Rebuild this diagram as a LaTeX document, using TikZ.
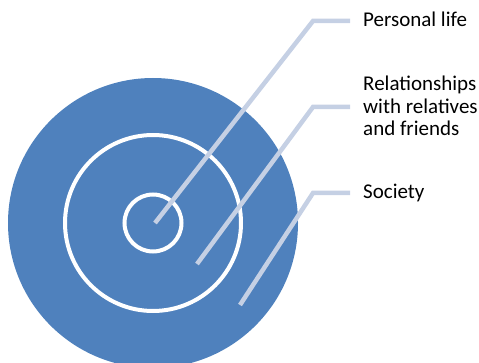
\documentclass[tikz,border=0pt]{standalone}
\usepackage{fontspec}
\setmainfont{Carlito}
\definecolor{discblue}{RGB}{79,129,189}
\definecolor{leadblue}{RGB}{197,208,228}
\begin{document}
\begin{tikzpicture}[x=1pt,y=-1pt,
  disc/.style={circle, fill=discblue, inner sep=0, minimum size=#1},
  ring/.style={circle, draw=white, line width=4pt, inner sep=0, minimum size=#1},
  leader/.style={draw=leadblue, line width=4.5pt, line cap=butt, line join=miter, shorten >=13pt},
  label/.style={anchor=base west, inner sep=0, align=left, font=\fontsize{21}{22.5}\selectfont, text=black}]
\useasboundingbox (0,0) rectangle (479,363);
\clip (0,0) rectangle (479,363);
\node[disc=290pt] (outer) at (153,223) {};
\node[ring=176pt] (middle) at (153,223) {};
\node[ring=57pt] (inner) at (153,223) {};
\node[label] (t1) at (363,27) {Personal life};
\node[label] (t2) at (363,136) {Relationships\\with relatives\\and friends};
\node[label] (t3) at (363,199) {Society};
\coordinate (a1) at (155,223);
\coordinate (k1) at (313,21);
\coordinate (a2) at (197,264);
\coordinate (k2) at (313,107);
\coordinate (a3) at (240,305);
\coordinate (k3) at (313,193);
\draw[leader] (a1) -- (k1) -- (k1 -| t1.west);
\draw[leader] (a2) -- (k2) -- (k2 -| t2.west);
\draw[leader] (a3) -- (k3) -- (k3 -| t3.west);
\end{tikzpicture}
\end{document}
